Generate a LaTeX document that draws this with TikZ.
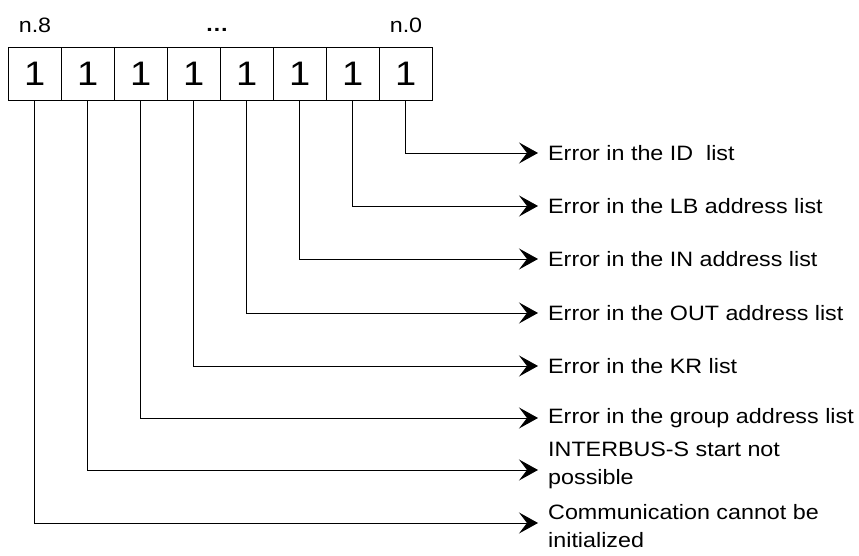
\documentclass[tikz,border=0pt]{standalone}
\usepackage{fontspec}
\setmainfont{Liberation Sans}[FakeStretch=1.12]
\usetikzlibrary{arrows.meta,positioning}

\begin{document}
\begin{tikzpicture}[x=1pt,y=1pt]
\tikzset{
  bitcell/.style={draw,line width=0.8pt,minimum width=53pt,minimum height=52.3pt,inner sep=0pt,font=\fontsize{34}{36}\selectfont},
  bitlabel/.style={font=\fontsize{20.8}{24}\selectfont,anchor=base},
  errtext/.style={anchor=west,inner sep=0pt,align=left,font=\fontsize{20.8}{28}\selectfont},
  errline/.style={line width=0.8pt,shorten >=10pt,-{Stealth[length=19pt,width=21pt,inset=8pt]}}
}
\useasboundingbox (0,0) rectangle (859,556);

% register n.8 ... n.0
\foreach \i in {1,...,8}
  \node[bitcell] (c\i) at (34.8+53*\i-53,482.2) {1};
\node[bitlabel] (l8) at (35,523) {n.8};
\node[bitlabel] (ld) at (217,524) {\bfseries …};
\node[bitlabel] (l0) at (406,523) {n.0};

% meanings of the bits
\node[errtext] (e8) at (548,403) {Error in the ID\ \ list};
\node[errtext] (e7) at (548,350) {Error in the LB address list};
\node[errtext] (e6) at (548,297) {Error in the IN address list};
\node[errtext] (e5) at (548,243) {Error in the OUT address list};
\node[errtext] (e4) at (548,190) {Error in the KR list};
\node[errtext] (e3) at (548,138) {Error in the group address list};
\node[errtext] (e2) at (548,90.7) {INTERBUS-S start not\\possible};
\node[errtext] (e1) at (548,30) {Communication cannot be\\initialized};

\foreach \i/\dy in {1/3,2/-4.7,3/0,4/0,5/0,6/0,7/0,8/0}
  \draw[errline] (c\i.south) |- ([yshift=\dy]e\i.west);
\end{tikzpicture}
\end{document}
